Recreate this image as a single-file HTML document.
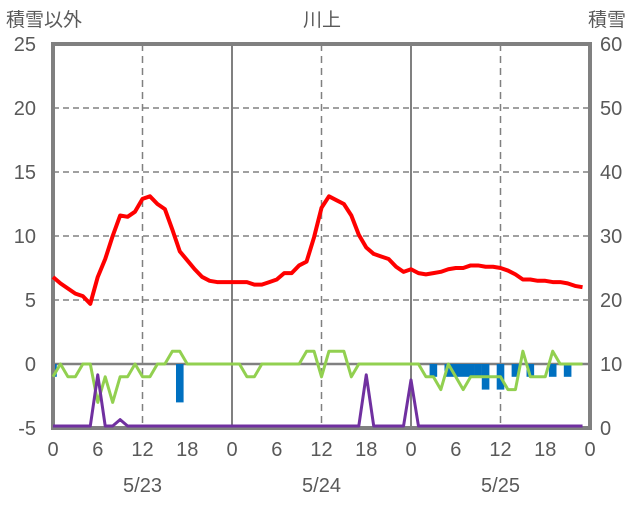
<!DOCTYPE html>
<html><head><meta charset="utf-8">
<style>
html,body{margin:0;padding:0;background:#fff;}
svg text{font-family:"Liberation Sans","Noto Sans CJK JP",sans-serif;fill:#595959;}
</style></head>
<body>
<svg id="chart" width="636" height="501" xmlns="http://www.w3.org/2000/svg">
<g id="grid"></g>
<g id="bars"></g>
<g id="axes"></g>
<g id="lines"></g>
<text x="6" y="26" font-size="19">積雪以外</text>
<text x="322" y="26" font-size="19" text-anchor="middle">川上</text>
<text x="588" y="26" font-size="19">積雪</text>
</svg>
<script>
const leftTicks=[-5,0,5,10,15,20,25];
const rightTicks=[0,10,20,30,40,50,60];
const hourLabels=[0,6,12,18,0,6,12,18,0,6,12,18,0];
const dayLabels=["5/23","5/24","5/25"];
const redSeries=[6.8,6.3,5.9,5.5,5.3,4.7,6.8,8.2,10,11.6,11.5,11.9,12.9,13.1,12.5,12.1,10.5,8.8,8.1,7.4,6.8,6.5,6.4,6.4,6.4,6.4,6.4,6.2,6.2,6.4,6.6,7.1,7.1,7.7,8.0,9.9,12.2,13.1,12.8,12.5,11.6,10.1,9.1,8.6,8.4,8.2,7.6,7.2,7.4,7.1,7.0,7.1,7.2,7.4,7.5,7.5,7.7,7.7,7.6,7.6,7.5,7.3,7.0,6.6,6.6,6.5,6.5,6.4,6.4,6.3,6.1,6.0];
const greenSeries=[-1,0,-1,-1,0,0,-3,-1,-3,-1,-1,0,-1,-1,0,0,1,1,0,0,0,0,0,0,0,0,-1,-1,0,0,0,0,0,0,1,1,-1,1,1,1,-1,0,0,0,0,0,0,0,0,0,-1,-1,-2,0,-1,-2,-1,-1,-1,-1,-1,-2,-2,1,-1,-1,-1,1,0,0,0,0];
const purpleSeries=[-5,-5,-5,-5,-5,-5,-1,-5,-5,-4.5,-5,-5,-5,-5,-5,-5,-5,-5,-5,-5,-5,-5,-5,-5,-5,-5,-5,-5,-5,-5,-5,-5,-5,-5,-5,-5,-5,-5,-5,-5,-5,-5,-1,-5,-5,-5,-5,-5,-1.4,-5,-5,-5,-5,-5,-5,-5,-5,-5,-5,-5,-5,-5,-5,-5,-5,-5,-5,-5,-5,-5,-5,-5];
const barHours=[0,17,51,53,54,55,56,57,58,60,62,64,67,69];
const barValues=[-1,-3,-1,-1,-1,-1,-1,-1,-2,-2,-1,-1,-1,-1];

const L=53,R=590,T=44,B=428,NS="http://www.w3.org/2000/svg";
const x=h=>L+h*(R-L)/72;
const y=v=>B-(v+5)*(B-T)/30;
function mk(tag,attrs,parent){const e=document.createElementNS(NS,tag);for(const k in attrs)e.setAttribute(k,attrs[k]);parent.appendChild(e);return e;}
const grid=document.getElementById('grid'),bars=document.getElementById('bars'),lines=document.getElementById('lines'),axes=document.getElementById('axes');
leftTicks.forEach((v,i)=>{
  if(v>-5&&v<25){const g=mk('line',{x1:L,x2:R,y1:y(v),y2:y(v),stroke:'#808080','stroke-width':v===0?2.5:1.5,'stroke-dasharray':v===0?'':'6,4'},grid);
  
  }
  const t=mk('text',{x:36,y:y(v)+7,'font-size':20,'text-anchor':'end'},axes);t.textContent=v;
  
  
  const t2=mk('text',{x:600,y:y(v)+7,'font-size':20},axes);t2.textContent=rightTicks[i];
  
  
});
for(let h=12;h<72;h+=12){
  const solid=h%24===0;
  const g=mk('line',{x1:x(h),x2:x(h),y1:T,y2:B,stroke:'#808080','stroke-width':solid?2:1.5,'stroke-dasharray':solid?'':'7,5'},grid);
  
  
}
hourLabels.forEach((lab,i)=>{const t=mk('text',{x:x(i*6),y:456,'font-size':20,'text-anchor':'middle'},axes);t.textContent=lab;
  
  });
dayLabels.forEach((lab,i)=>{const t=mk('text',{x:x(12+24*i),y:492,'font-size':20,'text-anchor':'middle'},axes);t.textContent=lab;
  
  });
barHours.forEach((h,i)=>{const x0=Math.max(L,x(h)-3.8);const r=mk('rect',{x:x0,y:y(0),width:x(h)+3.8-x0,height:y(barValues[i])-y(0),fill:'#0070c0'},bars);
  
  });
const f=mk('rect',{x:L,y:T,width:R-L,height:B-T,fill:'none',stroke:'#808080','stroke-width':4},axes);


function poly(arr,color,w,name,dy){const p=mk('polyline',{points:arr.map((v,i)=>x(i)+','+(y(v)+dy)).join(' '),fill:'none',stroke:color,'stroke-width':w,'stroke-linejoin':'round'},lines);
  
  }
poly(greenSeries,'#92d050',3,'green-series',0);
poly(purpleSeries,'#7030a0',3,'purple-series',-2);
poly(redSeries,'#ff0000',4,'red-series',0);
</script>
</body></html>
